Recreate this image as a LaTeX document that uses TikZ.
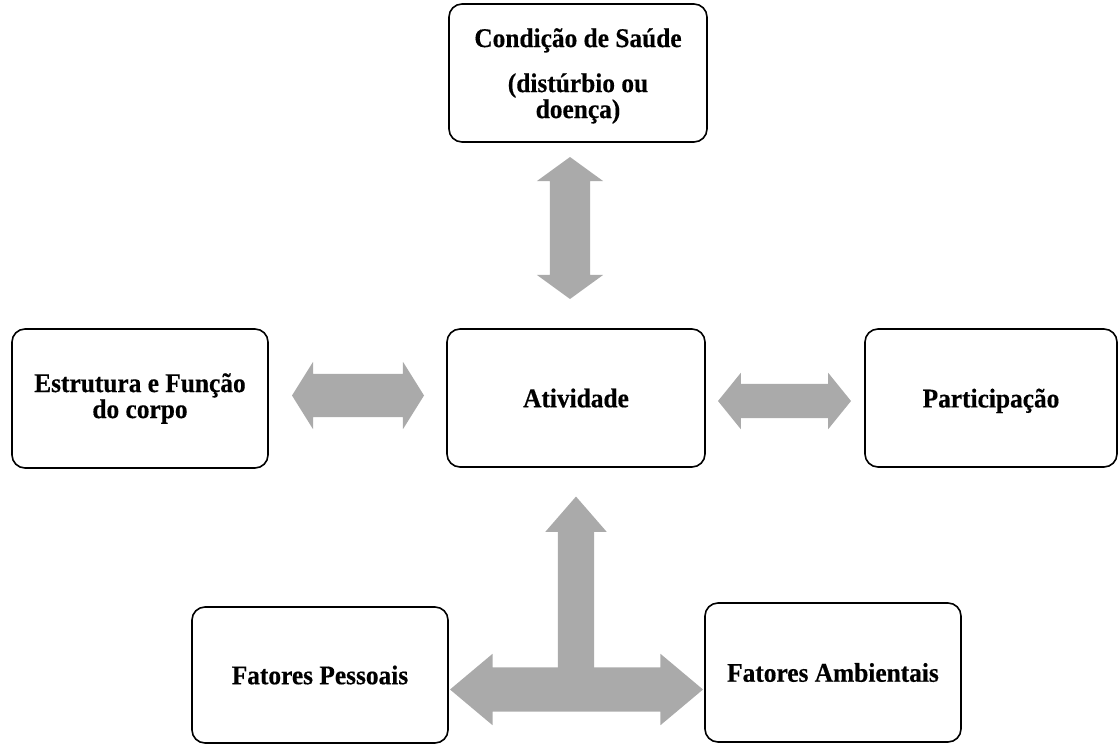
\documentclass[tikz,border=0pt]{standalone}
\usepackage{fontspec}
\setmainfont{Liberation Serif}[FakeStretch=0.94, BoldFeatures={FakeBold=0.4}]
\usetikzlibrary{shapes.arrows}
\definecolor{cinzaseta}{RGB}{170,170,170}
\tikzset{
  caixa/.style={draw, line width=1.6pt, rounded corners=13pt, align=center,
    font=\bfseries\fontsize{27}{26}\selectfont, inner sep=0pt},
  setadupla/.style={double arrow, fill=cinzaseta, inner xsep=0pt},
  setasimples/.style={single arrow, fill=cinzaseta, inner xsep=0pt}
}
\begin{document}
\begin{tikzpicture}[x=1pt,y=-1pt]
  \useasboundingbox (0,0) rectangle (1119,744);
  % setas
  \node[setadupla, rotate=90, minimum height=142pt, inner ysep=20pt,
    double arrow head extend=13pt, double arrow tip angle=108] (seta-saude) at (570,228) {};
  \node[setadupla, minimum height=132pt, inner ysep=21.5pt,
    double arrow head extend=12pt, double arrow tip angle=116] (seta-estrutura) at (358,395.5) {};
  \node[setadupla, minimum height=133pt, inner ysep=17pt,
    double arrow head extend=11pt, double arrow tip angle=102] (seta-participacao) at (784.5,401) {};
  \node[setasimples, rotate=90, minimum height=193pt, inner ysep=18pt,
    single arrow head extend=12.5pt, single arrow tip angle=82] (seta-fatores) at (576,603.5) {};
  \node[setadupla, minimum height=253pt, inner ysep=22pt,
    double arrow head extend=13.5pt, double arrow tip angle=80] (seta-base) at (576.5,689.5) {};

  % caixas
  \node[caixa, minimum width=258pt, minimum height=138pt,
    label={[caixa, draw=none, yshift=-3pt]center:{Condição de Saúde\\[19pt](distúrbio ou\\doença)}}]
    (saude) at (578,73) {};
  \node[caixa, minimum width=256pt, minimum height=139pt] (estrutura) at (140,398.5)
    {Estrutura e Função\\do corpo};
  \node[caixa, minimum width=258pt, minimum height=138pt] (atividade) at (576,398) {Atividade};
  \node[caixa, minimum width=252pt, minimum height=138pt, text depth=0pt] (participacao) at (991,398) {Participação};
  \node[caixa, minimum width=256pt, minimum height=136pt] (pessoais) at (320,675) {Fatores Pessoais};
  \node[caixa, minimum width=256pt, minimum height=139pt] (ambientais) at (833,672.5) {Fatores Ambientais};
\end{tikzpicture}
\end{document}
